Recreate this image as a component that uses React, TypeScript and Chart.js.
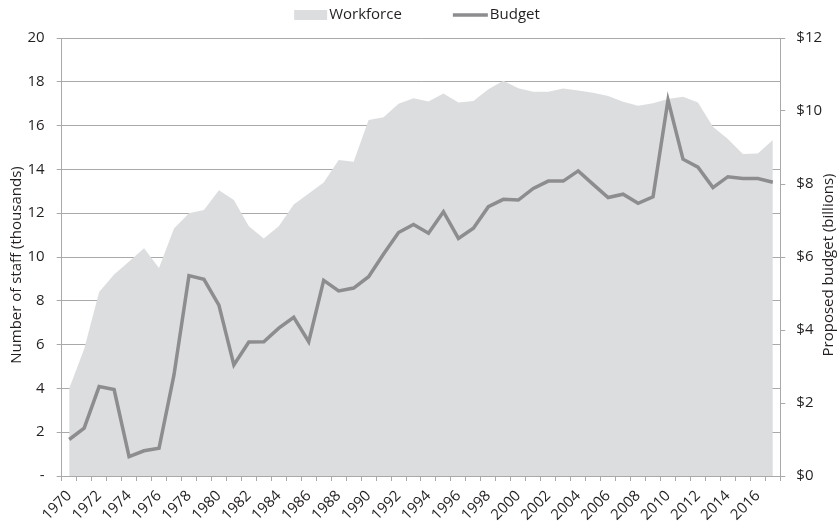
import React, { useEffect, useRef } from "react";
import { Chart, registerables } from "chart.js";

Chart.register(...registerables);

const years: string[] = [
  "1970", "1971", "1972", "1973", "1974", "1975", "1976", "1977", "1978", "1979",
  "1980", "1981", "1982", "1983", "1984", "1985", "1986", "1987", "1988", "1989",
  "1990", "1991", "1992", "1993", "1994", "1995", "1996", "1997", "1998", "1999",
  "2000", "2001", "2002", "2003", "2004", "2005", "2006", "2007", "2008", "2009",
  "2010", "2011", "2012", "2013", "2014", "2015", "2016", "2017",
];

// Number of staff (thousands)
const workforce: number[] = [
  4.0, 5.8, 8.4, 9.2, 9.8, 10.4, 9.5, 11.3, 12.0, 12.15,
  13.05, 12.6, 11.4, 10.85, 11.4, 12.4, 12.9, 13.4, 14.43, 14.35,
  16.26, 16.38, 17.0, 17.25, 17.1, 17.47, 17.06, 17.12, 17.66, 18.05,
  17.7, 17.55, 17.55, 17.69, 17.6, 17.5, 17.35, 17.09, 16.91, 17.02,
  17.21, 17.32, 17.05, 15.95, 15.39, 14.7, 14.73, 15.34,
];

// Proposed budget ($ billions)
const budget: number[] = [
  1.0, 1.31, 2.45, 2.37, 0.53, 0.69, 0.76, 2.77, 5.49, 5.39,
  4.68, 3.04, 3.67, 3.68, 4.05, 4.35, 3.68, 5.36, 5.07, 5.15,
  5.46, 6.08, 6.67, 6.89, 6.65, 7.24, 6.51, 6.79, 7.38, 7.58,
  7.56, 7.88, 8.08, 8.08, 8.36, 7.99, 7.63, 7.72, 7.47, 7.65,
  10.3, 8.68, 8.46, 7.9, 8.2, 8.15, 8.15, 8.05,
];

const legendLabels: string[] = ["Workforce", "Budget"];
const leftTitle = "Number of staff (thousands)";
const rightTitle = "Proposed budget (billions)";

const FONT = "'Open Sans', 'Noto Sans', sans-serif";
const TEXT = "#231f20";
const GRID = "#a9a9a9";
const AREA = "#dcdddf";
const LINE = "#8d8d8f";

export default function App() {
  const ref = useRef<HTMLCanvasElement | null>(null);

  useEffect(() => {
    document.body.style.margin = "0";
    document.body.style.overflow = "hidden";
    const canvas = ref.current;
    if (!canvas) return;

    const overlay = {
      id: "overlay",
      afterDraw(chart: any) {
        const ctx = chart.ctx as CanvasRenderingContext2D;
        ctx.save();
        ctx.fillStyle = TEXT;
        ctx.font = `15px ${FONT}`;
        ctx.textBaseline = "middle";
        // legend
        const w1 = ctx.measureText(legendLabels[0]).width;
        const w2 = ctx.measureText(legendLabels[1]).width;
        const box = 33;
        const gap = 51;
        const total = box + 2 + w1 + gap + 35 + 2 + w2;
        let x = 417 - total / 2;
        const cy = 15;
        ctx.fillStyle = AREA;
        ctx.fillRect(x, cy - 5, box, 10);
        ctx.fillStyle = TEXT;
        ctx.textAlign = "left";
        ctx.fillText(legendLabels[0], x + box + 2, cy);
        x += box + 2 + w1 + gap;
        ctx.strokeStyle = LINE;
        ctx.lineWidth = 3.5;
        ctx.beginPath();
        ctx.moveTo(x, cy);
        ctx.lineTo(x + 35, cy);
        ctx.stroke();
        ctx.fillText(legendLabels[1], x + 37, cy);
        // axis titles
        const midY = 265;
        ctx.font = `15px ${FONT}`;
        ctx.textAlign = "center";
        ctx.save();
        ctx.translate(17, midY);
        ctx.rotate(-Math.PI / 2);
        ctx.fillText(leftTitle, 0, 0);
        ctx.restore();
        ctx.save();
        ctx.translate(829, midY);
        ctx.rotate(-Math.PI / 2);
        ctx.fillText(rightTitle, 0, 0);
        ctx.restore();
        ctx.restore();
      },
    };

    const chart = new Chart(canvas, {
      type: "line",
      data: {
        labels: years,
        datasets: [
          {
            label: legendLabels[0],
            data: workforce,
            yAxisID: "y",
            fill: "origin",
            backgroundColor: AREA,
            borderWidth: 0,
            borderColor: "rgba(0,0,0,0)",
            pointRadius: 0,
            tension: 0,
            order: 2,
          },
          {
            label: legendLabels[1],
            data: budget,
            yAxisID: "y1",
            fill: false,
            borderColor: LINE,
            borderWidth: 3.5,
            pointRadius: 0,
            tension: 0,
            order: 1,
            borderJoinStyle: "miter",
          },
        ],
      },
      options: {
        responsive: false,
        animation: false,
        layout: { padding: { top: 38, left: 0, right: 0, bottom: 0 } },
        plugins: {
          legend: { display: false },
          tooltip: { enabled: false },
        },
        scales: {
          x: {
            type: "category",
            offset: true,
            grid: {
              offset: true,
              drawOnChartArea: false,
              drawTicks: true,
              tickLength: 5,
              color: GRID,
            },
            border: { display: true, color: GRID, width: 1 },
            ticks: {
              autoSkip: false,
              minRotation: 45,
              maxRotation: 45,
              color: TEXT,
              font: { family: FONT, size: 15 },
              padding: 6,
              callback: (_v: any, i: number) => (i % 2 === 0 ? years[i] : ""),
            },
            afterFit: (s: any) => {
              s.height = 50;
            },
          },
          y: {
            position: "left",
            min: 0,
            max: 20,
            grid: { color: GRID, lineWidth: 1, tickLength: 5 },
            border: { display: true, color: GRID, width: 1 },
            ticks: {
              stepSize: 2,
              color: TEXT,
              padding: 12,
              font: { family: FONT, size: 15 },
              callback: (v: any) => (v === 0 ? "-" : String(v)),
            },
            afterFit: (s: any) => {
              s.width = 61.7;
            },
          },
          y1: {
            position: "right",
            min: 0,
            max: 12,
            grid: { drawOnChartArea: false, color: GRID, tickLength: 5 },
            border: { display: true, color: GRID, width: 1 },
            ticks: {
              stepSize: 2,
              color: TEXT,
              padding: 11,
              font: { family: FONT, size: 15 },
              callback: (v: any) => "$" + v,
            },
            afterFit: (s: any) => {
              s.width = 837 - 780.3;
            },
          },
        },
      },
      plugins: [overlay],
    });

    return () => chart.destroy();
  }, []);

  return (
    <div style={{ width: 837, height: 526, background: "#fff" }}>
      <canvas ref={ref} width={837} height={526} style={{ display: "block", width: 837, height: 526 }} />
    </div>
  );
}
